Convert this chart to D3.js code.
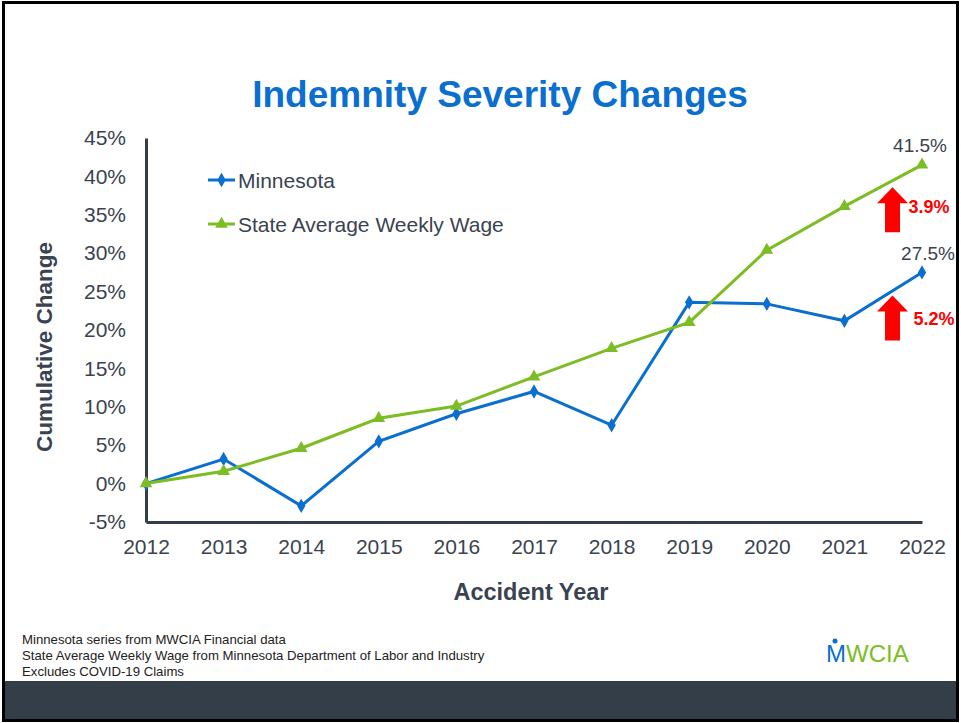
<!DOCTYPE html>
<html>
<head>
<meta charset="utf-8">
<script src="https://d3js.org/d3.v7.min.js"></script>
<style>
  body { margin: 0; background: #fff; }
  svg { display: block; font-family: "Liberation Sans", Arial, sans-serif; }
  .tick text { fill: #3a4350; font-size: 21px; }
</style>
</head>
<body>
<svg width="961" height="723"></svg>
<script>
// chart data
var years = [2012, 2013, 2014, 2015, 2016, 2017, 2018, 2019, 2020, 2021, 2022];
var minnesota = [0, 3.2, -2.9, 5.5, 9.1, 12.0, 7.6, 23.6, 23.4, 21.2, 27.5];
var stateWage = [0, 1.6, 4.6, 8.5, 10.1, 13.9, 17.6, 21.0, 30.4, 36.1, 41.5];
var yTicks = [-5, 0, 5, 10, 15, 20, 25, 30, 35, 40, 45];
var seriesNames = ["Minnesota", "State Average Weekly Wage"];
var yoyChanges = ["3.9%", "5.2%"];
var footNotes = [
  "Minnesota series from MWCIA Financial data",
  "State Average Weekly Wage from Minnesota Department of Labor and Industry",
  "Excludes COVID-19 Claims"
];

var blue = "#0a6fcf", green = "#7cbd24", ink = "#3a4350", axisInk = "#343e48";

var svg = d3.select("svg");

var x = d3.scaleLinear().domain([2012, 2022]).range([146, 922]);
var y = d3.scaleLinear().domain([-5, 45]).range([522, 138]);

// title
svg.append("text")
  .attr("x", 500).attr("y", 107)
  .attr("text-anchor", "middle")
  .attr("font-size", 37).attr("font-weight", "bold")
  .attr("fill", blue)
  .text("Indemnity Severity Changes");

// axes
svg.append("g")
  .attr("transform", "translate(146,0)")
  .call(d3.axisLeft(y).tickValues(yTicks).tickSize(0).tickPadding(20)
    .tickFormat(function(d) { return d + "%"; }))
  .call(function(g) { g.select(".domain").attr("stroke", axisInk).attr("stroke-width", 3); });

svg.append("g")
  .attr("transform", "translate(0,522)")
  .call(d3.axisBottom(x).tickValues(years).tickSize(0).tickPadding(17)
    .tickFormat(d3.format("d")))
  .call(function(g) { g.select(".domain").attr("stroke", axisInk).attr("stroke-width", 3); });

svg.append("text")
  .attr("transform", "translate(52,347) rotate(-90)")
  .attr("text-anchor", "middle")
  .attr("font-size", 22.5).attr("font-weight", "bold").attr("fill", ink)
  .text("Cumulative Change");

svg.append("text")
  .attr("x", 531).attr("y", 600)
  .attr("text-anchor", "middle")
  .attr("font-size", 23.5).attr("font-weight", "bold").attr("fill", ink)
  .text("Accident Year");

// lines
var line = d3.line()
  .x(function(d) { return x(d[0]); })
  .y(function(d) { return y(d[1]); });

var diamond = d3.symbol().type(d3.symbolDiamond).size(60);
var triangle = d3.symbol().type(d3.symbolTriangle).size(70);

var series = [
  { name: seriesNames[0], values: minnesota, color: blue, sym: diamond },
  { name: seriesNames[1], values: stateWage, color: green, sym: triangle }
];

series.forEach(function(s) {
  var pts = years.map(function(yr, i) { return [yr, s.values[i]]; });
  svg.append("path")
    .datum(pts)
    .attr("d", line)
    .attr("fill", "none")
    .attr("stroke", s.color)
    .attr("stroke-width", 3);
  svg.append("g").selectAll("path")
    .data(pts)
    .enter().append("path")
    .attr("transform", function(d) { return "translate(" + x(d[0]) + "," + y(d[1]) + ")"; })
    .attr("d", s.sym)
    .attr("fill", s.color);
});

// legend
series.forEach(function(s, i) {
  var ly = 180 + i * 44;
  var lg = svg.append("g").attr("transform", "translate(208," + ly + ")");
  lg.append("line").attr("x1", 0).attr("x2", 27).attr("stroke", s.color).attr("stroke-width", 3);
  lg.append("path").attr("transform", "translate(13.5,0)").attr("d", s.sym).attr("fill", s.color);
  lg.append("text").attr("x", 30).attr("y", 7.5)
    .attr("font-size", 21).attr("fill", ink).text(s.name);
});

// end labels
svg.append("text")
  .attr("x", x(2022) - 2).attr("y", y(stateWage[10]) - 13)
  .attr("text-anchor", "middle").attr("font-size", 19).attr("fill", ink)
  .text(stateWage[10].toFixed(1) + "%");
svg.append("text")
  .attr("x", x(2022) + 6).attr("y", y(minnesota[10]) - 12)
  .attr("text-anchor", "middle").attr("font-size", 19).attr("fill", ink)
  .text(minnesota[10].toFixed(1) + "%");

// red arrows with year-over-year changes
var arrowTops = [38.6, 24.5];
arrowTops.forEach(function(top, i) {
  var cx = x(2021.62), ty = y(top), by = ty + 45;
  var p = d3.path();
  p.moveTo(cx, ty);
  p.lineTo(cx + 15.5, ty + 16);
  p.lineTo(cx + 7.5, ty + 16);
  p.lineTo(cx + 7.5, by);
  p.lineTo(cx - 7.5, by);
  p.lineTo(cx - 7.5, ty + 16);
  p.lineTo(cx - 15.5, ty + 16);
  p.closePath();
  svg.append("path").attr("d", p.toString()).attr("fill", "#ff0000");
  svg.append("text")
    .attr("x", cx + 16 + i * 5).attr("y", ty + 26 + i * 4)
    .attr("font-size", 18).attr("font-weight", "bold").attr("fill", "#ff0000")
    .text(yoyChanges[i]);
});

// footer notes
svg.append("g").selectAll("text")
  .data(footNotes)
  .enter().append("text")
  .attr("x", 22).attr("y", function(d, i) { return 644 + i * 16; })
  .attr("font-size", 13.2).attr("fill", "#222")
  .text(function(d) { return d; });

// logo
svg.append("circle").attr("cx", 835).attr("cy", 641).attr("r", 2.5).attr("fill", blue);
var logo = svg.append("text").attr("x", 826).attr("y", 662).attr("font-size", 24);
logo.append("tspan").attr("fill", blue).text("M");
logo.append("tspan").attr("fill", green).text("WCIA");

// bottom band and frame
svg.append("rect").attr("x", 3).attr("y", 681).attr("width", 955).attr("height", 39).attr("fill", "#343e48");
svg.append("rect").attr("x", 3.5).attr("y", 2.5).attr("width", 954).attr("height", 718)
  .attr("fill", "none").attr("stroke", "#000").attr("stroke-width", 3);
</script>
</body>
</html>
